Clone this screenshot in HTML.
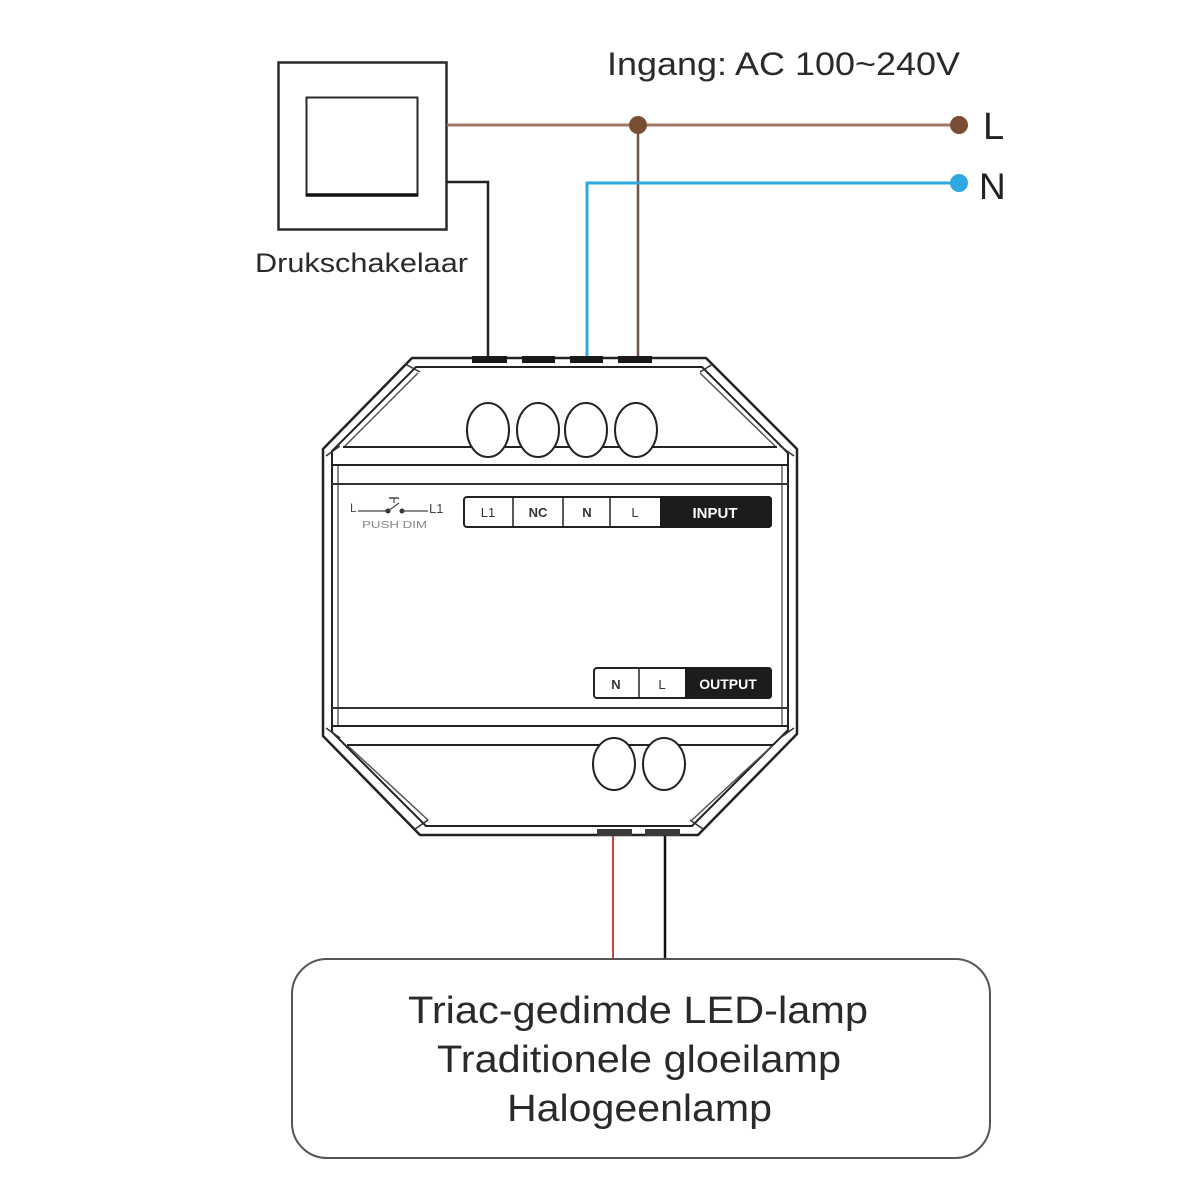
<!DOCTYPE html>
<html>
<head>
<meta charset="utf-8">
<style>
html,body{margin:0;padding:0;background:#fff;}
svg{display:block;}
text{font-family:"Liberation Sans",Arial,sans-serif;}
</style>
</head>
<body>
<svg width="1200" height="1200" viewBox="0 0 1200 1200" xmlns="http://www.w3.org/2000/svg">
<rect width="1200" height="1200" fill="#fff"/>

<!-- Switch -->
<rect x="278.5" y="62.5" width="168" height="167" fill="#fff" stroke="#2a2a2a" stroke-width="2.5"/>
<rect x="306.5" y="97.5" width="111" height="98" fill="#fff" stroke="#2a2a2a" stroke-width="2"/>
<line x1="306" y1="195" x2="418" y2="195" stroke="#111" stroke-width="3.5"/>
<text x="255" y="272" font-size="27" fill="#2a2a2a" textLength="213" lengthAdjust="spacingAndGlyphs">Drukschakelaar</text>

<!-- Title -->
<text x="607" y="75" font-size="32" fill="#2a2a2a" textLength="353" lengthAdjust="spacingAndGlyphs">Ingang: AC 100~240V</text>
<text x="983" y="139" font-size="38" fill="#222">L</text>
<text x="979" y="199" font-size="37" fill="#222">N</text>

<!-- Wires -->
<line x1="447" y1="125" x2="958" y2="125" stroke="#a07868" stroke-width="3"/>
<line x1="638" y1="125" x2="638" y2="358" stroke="#6e5248" stroke-width="2.5"/>
<polyline points="958,183 587,183 587,358" fill="none" stroke="#2ea8e0" stroke-width="3"/>
<polyline points="447,182 488,182 488,358" fill="none" stroke="#222" stroke-width="2.5"/>
<circle cx="638" cy="125" r="9" fill="#7a4e34"/>
<circle cx="959" cy="125" r="9" fill="#7a4e34"/>
<circle cx="959" cy="183" r="9" fill="#2ea8e0"/>

<line x1="613" y1="832" x2="613" y2="960" stroke="#c84646" stroke-width="2"/>
<line x1="665" y1="832" x2="665" y2="960" stroke="#111" stroke-width="2.5"/>

<!-- Device body -->
<path d="M412,358 L706,358 L797,449 L797,734 L698,835 L420,835 L323,736 L323,449 Z" fill="#fff" stroke="#222" stroke-width="2.5" stroke-linejoin="round"/>
<path d="M416,367 L702,367 L788,453 L788,730 L692,826 L426,826 L332,732 L332,451 Z" fill="none" stroke="#222" stroke-width="2"/>
<!-- third lines -->
<line x1="338" y1="465" x2="338" y2="727" stroke="#666" stroke-width="1.5"/>
<line x1="782" y1="465" x2="782" y2="727" stroke="#666" stroke-width="1.5"/>
<line x1="344" y1="447" x2="418" y2="373" stroke="#555" stroke-width="1.5"/>
<line x1="776" y1="447" x2="700" y2="373" stroke="#555" stroke-width="1.5"/>
<line x1="347" y1="745" x2="428" y2="820" stroke="#555" stroke-width="1.5"/>
<line x1="773" y1="745" x2="692" y2="820" stroke="#555" stroke-width="1.5"/>
<!-- corner caps -->
<line x1="405" y1="364" x2="420" y2="372" stroke="#333" stroke-width="1.5"/>
<line x1="713" y1="364" x2="700" y2="372" stroke="#333" stroke-width="1.5"/>
<line x1="326" y1="456" x2="340" y2="446" stroke="#333" stroke-width="1.5"/>
<line x1="794" y1="456" x2="780" y2="446" stroke="#333" stroke-width="1.5"/>
<line x1="326" y1="728" x2="340" y2="738" stroke="#333" stroke-width="1.5"/>
<line x1="794" y1="728" x2="780" y2="738" stroke="#333" stroke-width="1.5"/>
<line x1="415" y1="829" x2="428" y2="820" stroke="#333" stroke-width="1.5"/>
<line x1="703" y1="829" x2="690" y2="820" stroke="#333" stroke-width="1.5"/>

<!-- horizontal lines -->
<line x1="343" y1="447" x2="777" y2="447" stroke="#222" stroke-width="2"/>
<line x1="332" y1="465" x2="788" y2="465" stroke="#222" stroke-width="2"/>
<line x1="332" y1="484" x2="788" y2="484" stroke="#333" stroke-width="2"/>
<line x1="332" y1="708" x2="788" y2="708" stroke="#333" stroke-width="2"/>
<line x1="332" y1="726" x2="788" y2="726" stroke="#222" stroke-width="2"/>
<line x1="347" y1="745" x2="773" y2="745" stroke="#222" stroke-width="2"/>

<!-- top terminals -->
<rect x="472" y="356" width="35" height="7" fill="#1a1a1a"/>
<rect x="522" y="356" width="33" height="7" fill="#1a1a1a"/>
<rect x="570" y="356" width="33" height="7" fill="#1a1a1a"/>
<rect x="618" y="356" width="34" height="7" fill="#1a1a1a"/>
<!-- bottom terminals -->
<rect x="597" y="829" width="35" height="7" fill="#3a3a3a"/>
<rect x="645" y="829" width="35" height="7" fill="#3a3a3a"/>

<!-- ellipses -->
<g fill="#fff" stroke="#222" stroke-width="2">
<ellipse cx="488" cy="430" rx="21" ry="27"/>
<ellipse cx="538" cy="430" rx="21" ry="27"/>
<ellipse cx="586" cy="430" rx="21" ry="27"/>
<ellipse cx="636" cy="430" rx="21" ry="27"/>
<ellipse cx="614" cy="764" rx="21" ry="26"/>
<ellipse cx="664" cy="764" rx="21" ry="26"/>
</g>

<!-- push dim symbol -->
<text x="350" y="512" font-size="12" fill="#444">L</text>
<line x1="358" y1="511" x2="388" y2="511" stroke="#444" stroke-width="1.2"/>
<circle cx="388" cy="511" r="2.5" fill="#333"/>
<circle cx="402" cy="511" r="2.5" fill="#333"/>
<line x1="388" y1="511" x2="399" y2="503" stroke="#444" stroke-width="1.2"/>
<line x1="389" y1="498" x2="399" y2="498" stroke="#444" stroke-width="1.5"/>
<line x1="394" y1="498" x2="394" y2="503" stroke="#444" stroke-width="1.2"/>
<line x1="402" y1="511" x2="428" y2="511" stroke="#444" stroke-width="1.2"/>
<text x="429" y="513" font-size="13" fill="#444">L1</text>
<text x="362" y="528" font-size="10" fill="#888" textLength="65" lengthAdjust="spacingAndGlyphs">PUSH DIM</text>

<!-- INPUT block -->
<rect x="464" y="497" width="307" height="30" rx="3" fill="#fff" stroke="#222" stroke-width="2"/>
<path d="M660,496 L768,496 Q772,496 772,500 L772,524 Q772,528 768,528 L660,528 Z" fill="#1c1c1c"/>
<line x1="513" y1="497" x2="513" y2="527" stroke="#222" stroke-width="1.5"/>
<line x1="563" y1="497" x2="563" y2="527" stroke="#222" stroke-width="1.5"/>
<line x1="610" y1="497" x2="610" y2="527" stroke="#222" stroke-width="1.5"/>
<g font-size="13" fill="#333" text-anchor="middle">
<text x="488" y="517">L1</text>
<text x="538" y="517" font-weight="bold">NC</text>
<text x="587" y="517" font-weight="bold">N</text>
<text x="635" y="517">L</text>
</g>
<text x="715" y="518" font-size="15" font-weight="bold" fill="#fff" text-anchor="middle">INPUT</text>

<!-- OUTPUT block -->
<rect x="594" y="668" width="177" height="30" rx="3" fill="#fff" stroke="#222" stroke-width="2"/>
<path d="M685,667 L768,667 Q772,667 772,671 L772,695 Q772,699 768,699 L685,699 Z" fill="#1c1c1c"/>
<line x1="639" y1="668" x2="639" y2="698" stroke="#222" stroke-width="1.5"/>
<g font-size="13" fill="#333" text-anchor="middle">
<text x="616" y="689" font-weight="bold">N</text>
<text x="662" y="689">L</text>
</g>
<text x="728" y="689" font-size="14" font-weight="bold" fill="#fff" text-anchor="middle">OUTPUT</text>

<!-- Lamp box -->
<rect x="292" y="959" width="698" height="199" rx="35" fill="#fff" stroke="#555" stroke-width="2"/>
<g font-size="38" fill="#2a2a2a">
<text x="408" y="1023" textLength="460" lengthAdjust="spacingAndGlyphs">Triac-gedimde LED-lamp</text>
<text x="437" y="1072" textLength="404" lengthAdjust="spacingAndGlyphs">Traditionele gloeilamp</text>
<text x="507" y="1121" textLength="265" lengthAdjust="spacingAndGlyphs">Halogeenlamp</text>
</g>
</svg>
</body>
</html>
